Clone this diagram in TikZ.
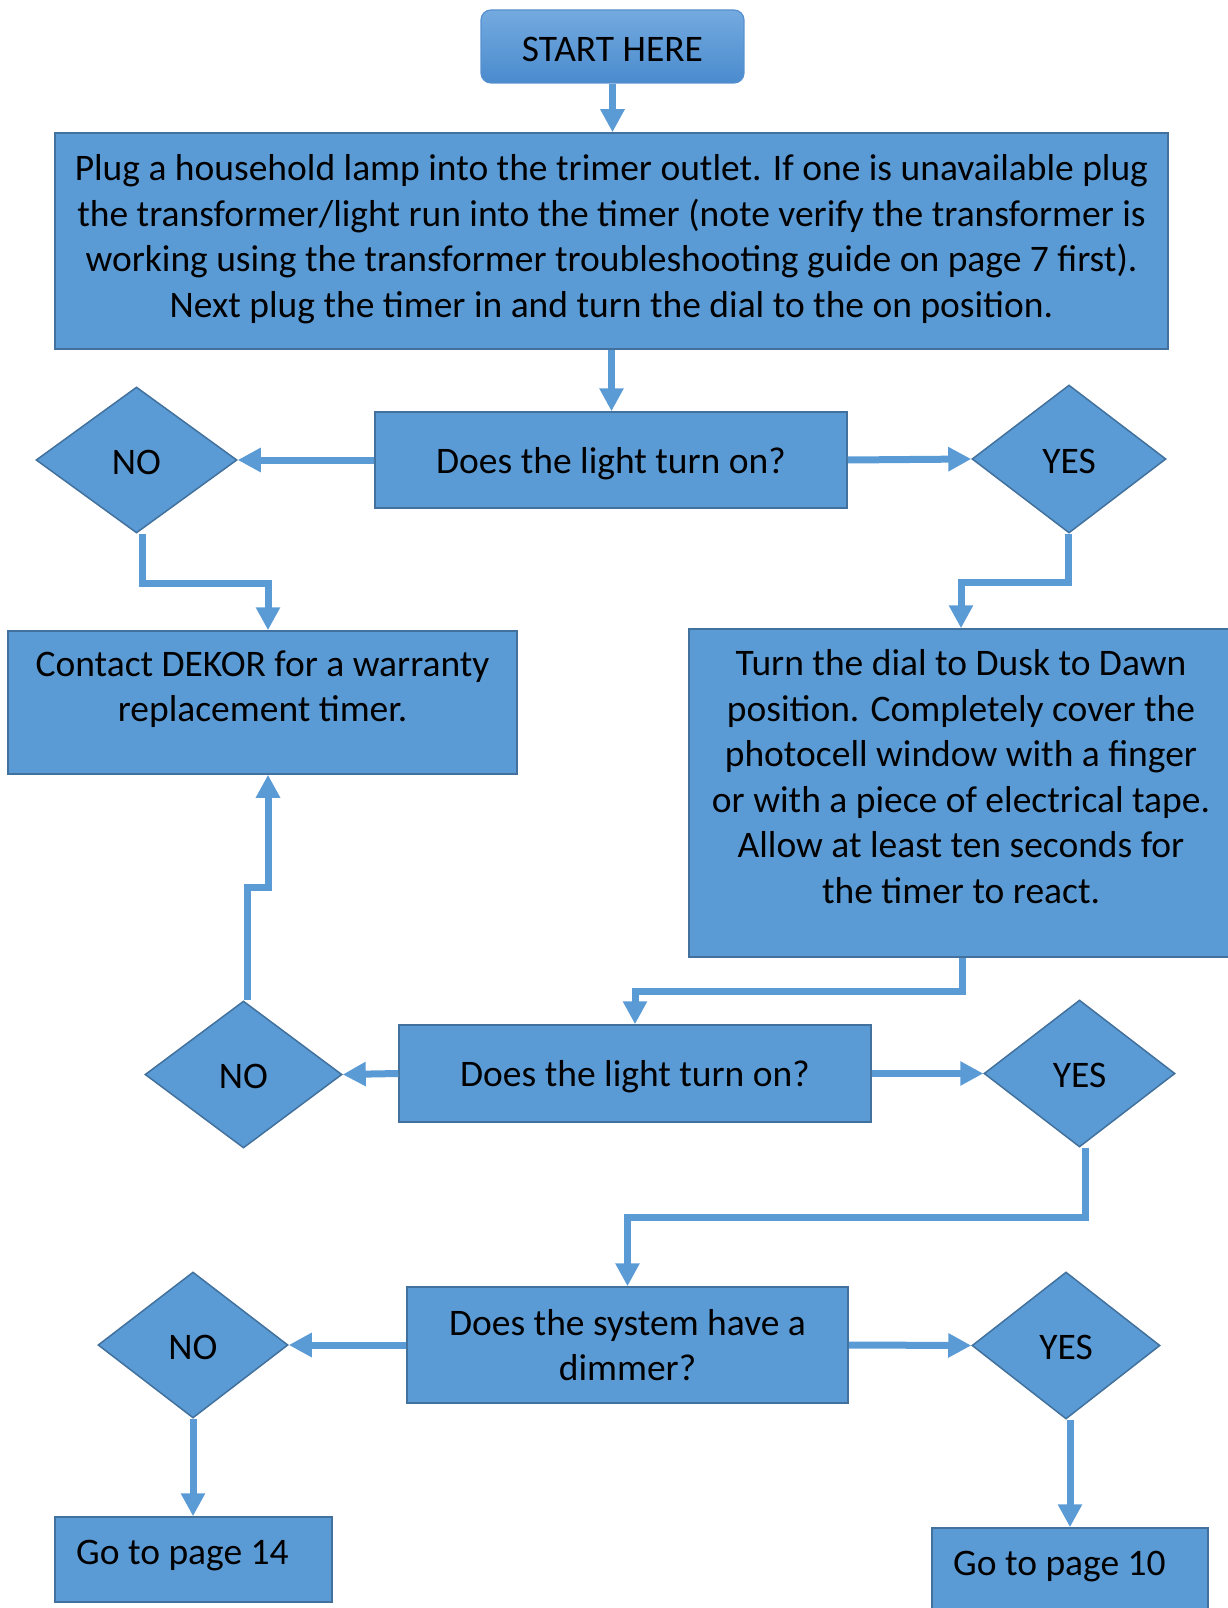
\documentclass[tikz,border=0pt]{standalone}
\usepackage{fontspec}
\setmainfont{Carlito}
\usetikzlibrary{shapes.geometric,arrows.meta}
\definecolor{boxfill}{HTML}{5B9BD5}
\definecolor{boxline}{HTML}{41719C}
\definecolor{starttop}{HTML}{74AADF}
\definecolor{startbot}{HTML}{4A8BCE}
\definecolor{startline}{HTML}{5790CF}
\begin{document}
\begin{tikzpicture}[x=1pt,y=-1pt,
  every node/.style={font=\fontsize{37.5}{45.5}\selectfont, text=black},
  box/.style={rectangle, draw=boxline, line width=1.5pt, fill=boxfill, inner sep=0pt},
  startbox/.style={rectangle, rounded corners=10pt, draw=startline, line width=1.2pt,
    top color=starttop, bottom color=startbot, inner sep=0pt},
  choice/.style={diamond, draw=boxline, line width=1.5pt, fill=boxfill, inner sep=0pt,
    text height=28pt, text depth=0pt},
  flow/.style={draw=boxfill, line width=7pt, -{Triangle[width=23pt,length=23pt]}},
  txt/.style={align=center, inner sep=0pt}
]
\useasboundingbox (0,0) rectangle (1227,1608);

% start
\node[startbox, minimum width=263pt, minimum height=73pt, text height=30pt, text depth=0pt]
  (start) at (612.5,46.5) {START HERE};

% first instruction
\node[box, minimum width=1113pt, minimum height=216pt] (main) at (611.5,241) {};
\node[txt] at (611.5,239)
  {Plug a household lamp into the trimer outlet. If one is unavailable plug\\
   the transformer/light run into the timer (note verify the transformer is\\
   working using the transformer troubleshooting guide on page 7 first).\\
   Next plug the timer in and turn the dial to the on position.};

% first question
\node[box, minimum width=472pt, minimum height=96pt, text depth=0pt] (q1) at (611,460) {Does the light turn on?};
\node[choice, minimum width=201pt, minimum height=146pt] (no1) at (136.5,460) {NO};
\node[choice, minimum width=194pt, minimum height=148pt] (yes1) at (1069,459) {YES};

% outcomes of the first question
\node[box, minimum width=509pt, minimum height=143pt] (contact) at (262.5,702.5) {};
\node[txt, anchor=base] at (262.5,721.5)
  {Contact DEKOR for a warranty\\replacement timer.};
\node[box, minimum width=544pt, minimum height=328pt] (turn) at (961,793) {};
\node[txt, anchor=base] at (961,903)
  {Turn the dial to Dusk to Dawn\\position. Completely cover the\\photocell window with a finger\\
   or with a piece of electrical tape.\\Allow at least ten seconds for\\the timer to react.};

% second question
\node[box, minimum width=472pt, minimum height=97pt, text depth=0pt] (q2) at (635,1073.5) {Does the light turn on?};
\node[choice, minimum width=197pt, minimum height=147pt] (no2) at (243.5,1074.5) {NO};
\node[choice, minimum width=191pt, minimum height=147pt] (yes2) at (1079.5,1073.5) {YES};

% third question
\node[box, minimum width=441pt, minimum height=116pt, txt] (q3) at (627.5,1345)
  {Does the system have a\\dimmer?};
\node[choice, minimum width=190pt, minimum height=146pt] (no3) at (193,1345) {NO};
\node[choice, minimum width=188pt, minimum height=147pt] (yes3) at (1066,1345.5) {YES};

% final pointers
\node[box, minimum width=277pt, minimum height=85pt] (go14) at (193.5,1559.5) {};
\node[anchor=base west, inner sep=0pt] at (76,1564) {Go to page 14};
\node[box, minimum width=276pt, minimum height=86pt] (go10) at (1070,1571) {};
\node[anchor=base west, inner sep=0pt] at (953,1575) {Go to page 10};

% connectors
\draw[flow] (start.south) -- (start.south |- main.north);
\draw[flow] (main.south) -- (main.south |- q1.north);
\draw[flow] (q1.west) -- (no1.east);
\draw[flow] (q1.east) -- (yes1.west);
\draw[flow] ([xshift=6pt]no1.south) -- ++(0,50) -| ([xshift=5.5pt]contact.north);
\draw[flow] ([xshift=-1pt]yes1.south) -- ++(0,49) -| (turn.north);
\draw[flow] ([xshift=1pt]turn.south) -- ++(0,34) -| (q2.north);
\draw[flow] (q2.west) -- (no2.east);
\draw[flow] (q2.east) -- (yes2.west);
\draw[flow] ([xshift=3.5pt]no2.north) -- ++(0,-113) -| ([xshift=5.5pt]contact.south);
\draw[flow] ([xshift=5.5pt]yes2.south) -- ++(0,70) -| (q3.north);
\draw[flow] (q3.west) -- (no3.east);
\draw[flow] (q3.east) -- (yes3.west);
\draw[flow] (no3.south) -- (no3.south |- go14.north);
\draw[flow] ([xshift=4pt]yes3.south) -- ([xshift=4pt]yes3.south |- go10.north);
\end{tikzpicture}
\end{document}
